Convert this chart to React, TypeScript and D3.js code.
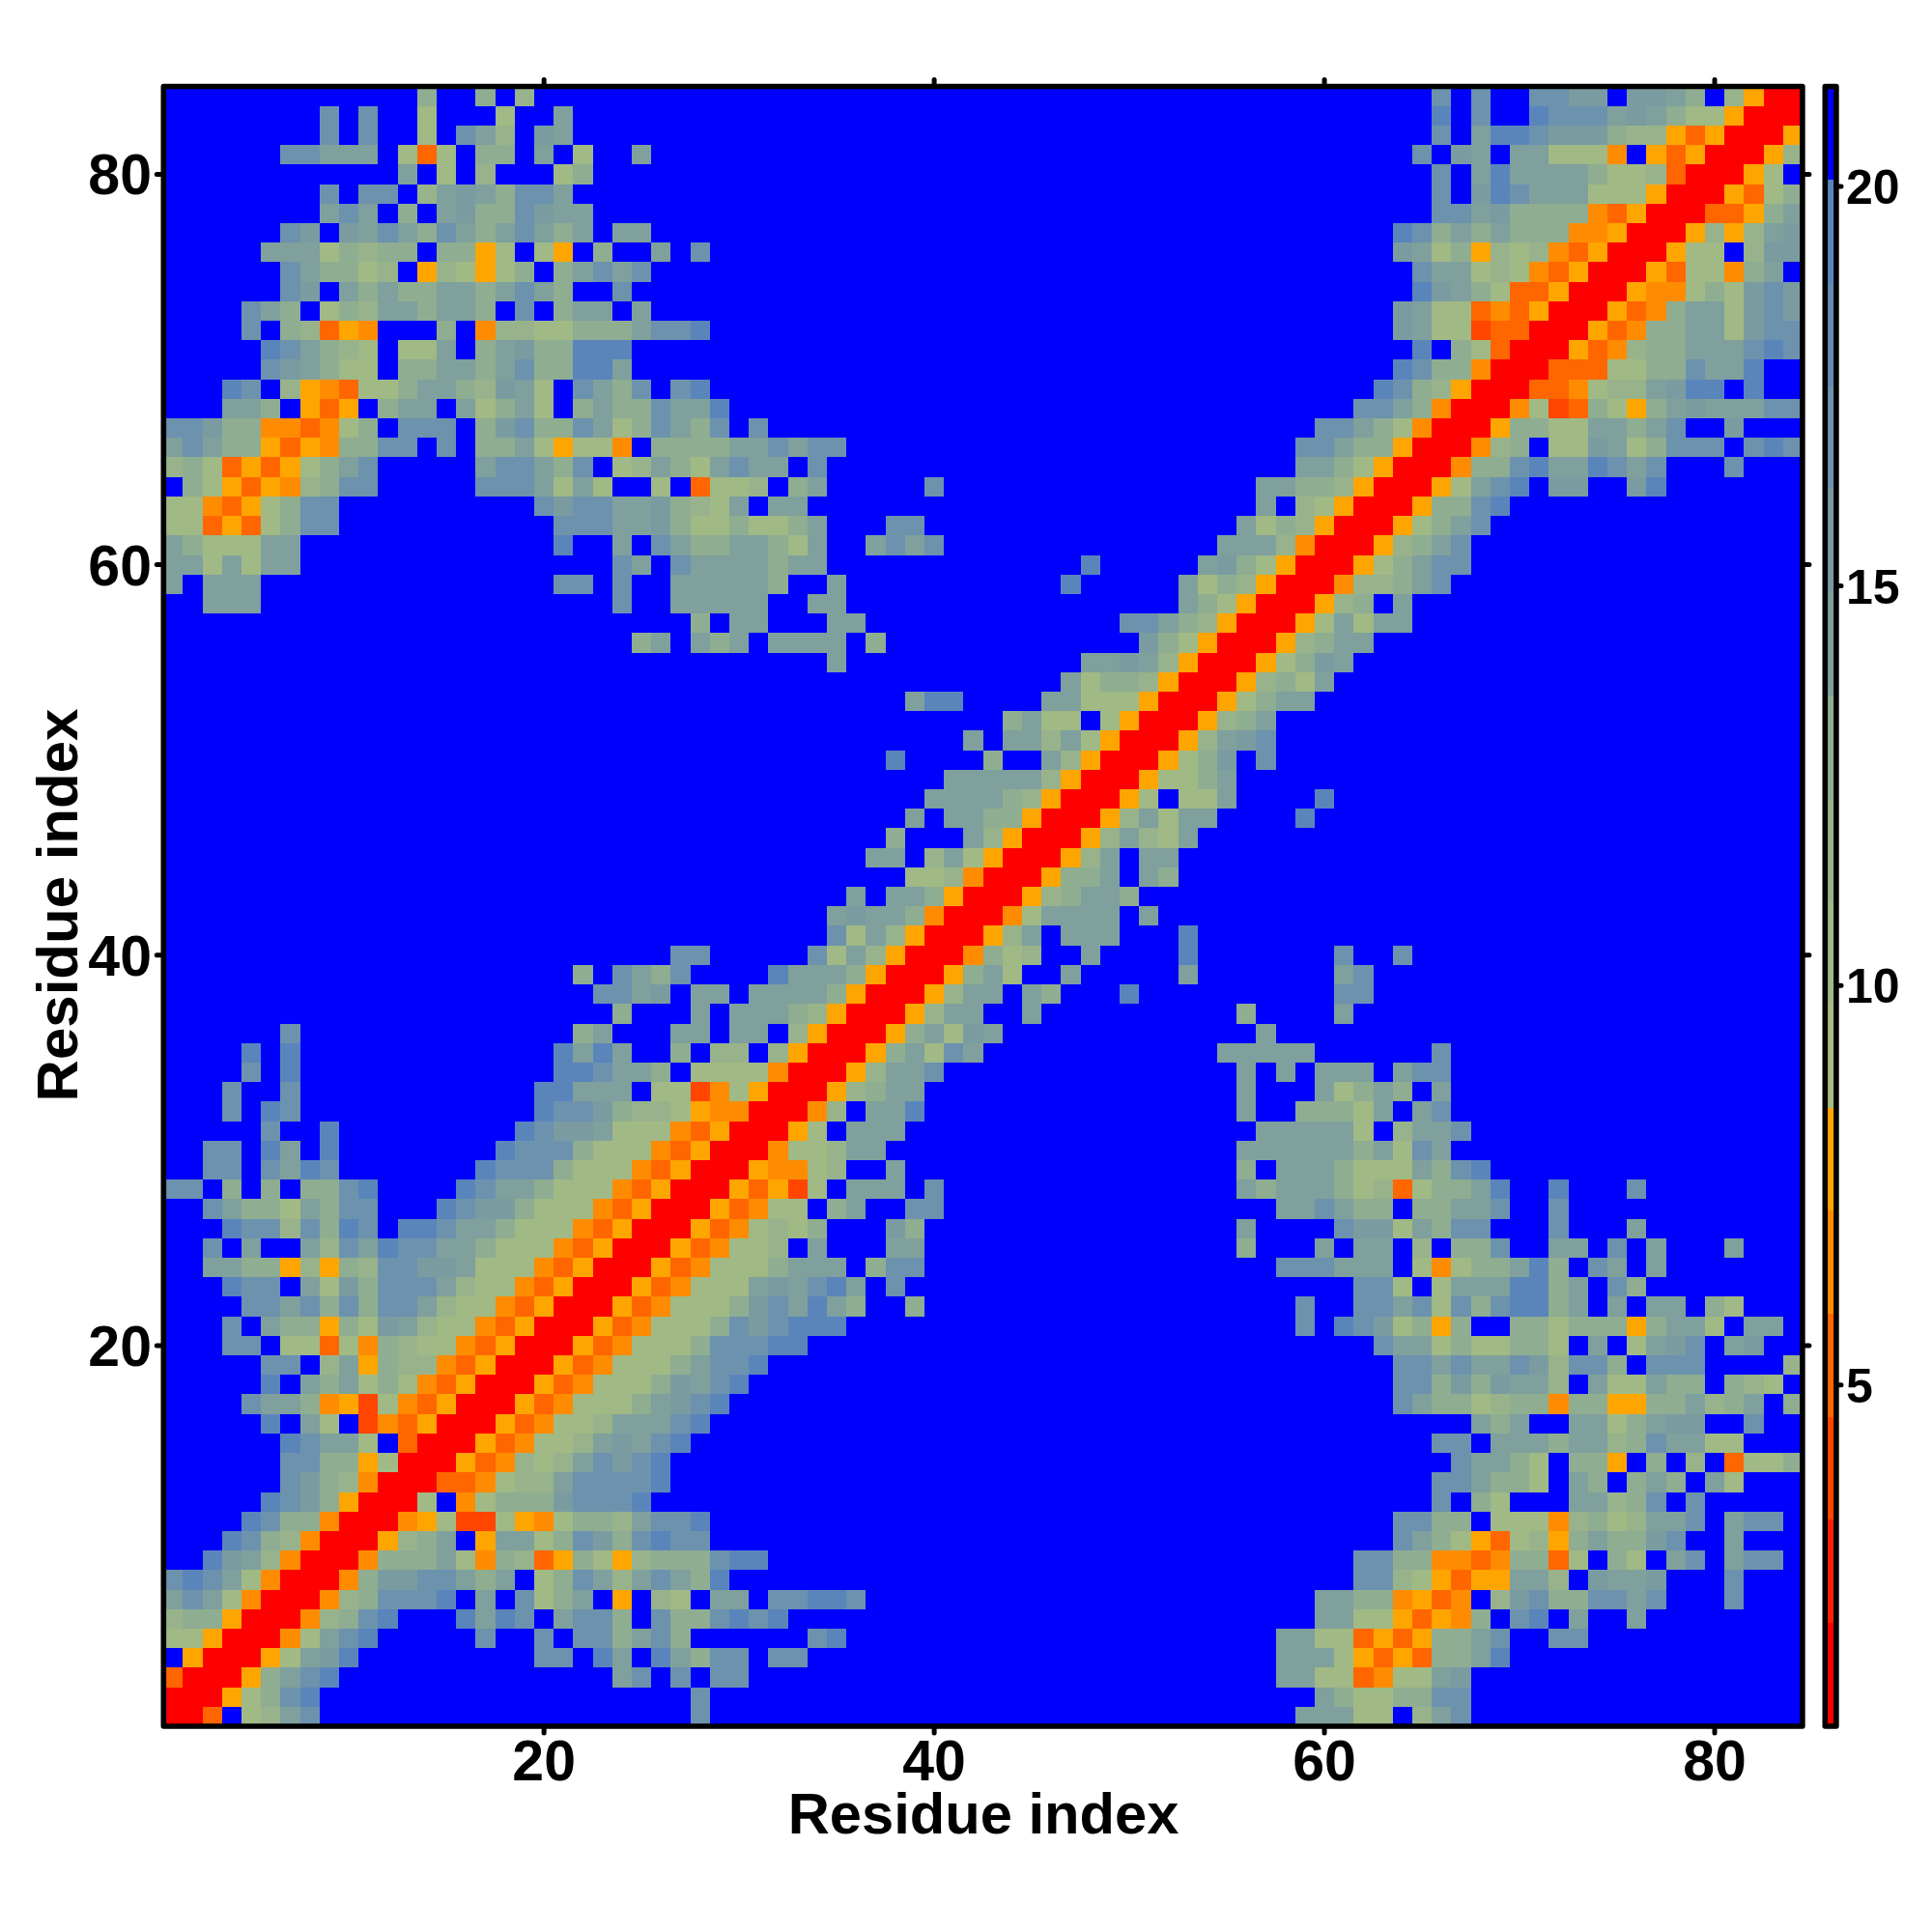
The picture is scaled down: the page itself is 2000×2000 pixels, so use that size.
import React from "react";
import * as d3 from "d3";

const N = 84;
const xTicks = [20, 40, 60, 80];
const yTicks = [20, 40, 60, 80];
const barTicks = [5, 10, 15, 20];
const axisTitle = "Residue index";

// Distance classes: each letter stands for a value.
const classValues: Record<string, number> = {
  R: 1.4, l: 4, m: 5.2, n: 6.5, o: 7.8,
  a: 10.4, f: 11.7, b: 13, c: 14.3, g: 15.6, d: 16.9, e: 19.4, ".": 21,
};

const barEdges = [0.73, 2.02, 3.31, 4.6, 5.89, 7.18, 8.47, 9.76, 11.05, 12.34, 13.63, 14.92, 16.21, 17.5, 18.79, 20.08, 21.26];
const barColors = [
  "#ff0000", "#ff2200", "#ff4500", "#ff6600", "#ff8c00", "#ffa500",
  "#a6bc83", "#a0b985", "#98b38b", "#8fad91", "#7fa09c", "#7a9ca1", "#6c92ae", "#6489b3", "#5a85bb", "#0000ff",
];

// Symmetric matrix: [row, [firstColumn, classes], ...] for columns up to the diagonal; anything omitted is ".".
const rows: [number, ...[number, string][]][] = [
  [84, [14, "b"], [17, "b"], [19, "f"], [66, "d.d..ddgg.ggcb.foRR"]],
  [83, [9, "d"], [11, "d"], [14, "a"], [18, "a"], [21, "c"], [66, "e.d..edddcgcbaaoRR"]],
  [82, [9, "d"], [11, "d"], [14, "a"], [16, "dcf"], [20, "gc"], [66, "d.ceedgggbffomoRR"]],
  [81, [7, "ddccc"], [13, "ama"], [17, "bb"], [20, "c"], [22, "a"], [25, "c"], [65, "d.gc.ccaaan.omoRR"]],
  [80, [13, "c"], [15, "a"], [17, "f"], [21, "ab"], [66, "d.ceccccbaafmRR"]],
  [79, [9, "d"], [11, "dd"], [14, "fcgcbddc"], [66, "d.gedcccaaaoRR"]],
  [78, [9, "cdc"], [13, "b"], [15, "cgbbdgcc"], [66, "ddcgbbbbnmoRR"]],
  [77, [7, "dg"], [10, "gcdcbdcbcdcbc"], [24, "cc"], [64, "edbcbcbbbnnoRR"]],
  [76, [6, "cccabfbb"], [15, "bboa"], [20, "ao"], [23, "b"], [26, "c"], [28, "d"], [64, "gcabofafnmoRR"]],
  [75, [7, "dcbbaf"], [14, "ofaoab"], [21, "bcdcd"], [65, "dccafanmoRR"]],
  [74, [7, "dg"], [10, "cbcbbccbcdcb"], [24, "d"], [65, "egcbammoRR"]],
  [73, [5, "dcb"], [9, "abfccbccb"], [19, "d"], [21, "bcc"], [25, "c"], [64, "gcaamnmoRR"]],
  [72, [5, "d"], [7, "bfmon"], [15, "b"], [17, "nffaabbbcdde"], [64, "gcaalmmRR"]],
  [71, [6, "edcbfa"], [13, "aac"], [17, "bcgbbeee"], [65, "e.bamRR"]],
  [70, [6, "dgcbaa"], [13, "bbccbcdbbeec"], [64, "edbbnRR"]],
  [69, [4, "ed"], [7, "fonmaabccbfgca"], [22, "dcbd"], [27, "de"], [63, "edbfoRR"]],
  [68, [4, "ccb"], [8, "omo"], [12, "bcc"], [16, "cabca"], [22, "bcbbdcce"], [62, "ddcbnRR"]],
  [67, [1, "ddgbbnnmnab"], [13, "ddd"], [17, "bgdbbdcabdcbd"], [31, "d"], [60, "ddcbanRR"]],
  [66, [1, "cdcbbomonbbdd"], [15, "d"], [17, "bbcaoaan"], [26, "bbbbccdcdd"], [59, "ddcbboRR"]],
  [65, [1, "fbamomoabcd"], [17, "cddcbd"], [24, "afcbacdcc"], [34, "d"], [59, "ccbaoRR"]],
  [64, [2, "baomonfbdd"], [17, "dddcaca"], [26, "a"], [28, "maaf"], [33, "bc"], [40, "d"], [57, "ccbbfoRR"]],
  [63, [1, "aanmoabdd"], [20, "dgddccgbfac"], [32, "cc"], [57, "c.faoRR"]],
  [62, [1, "aamomabdd"], [21, "dddccgbaabaabc"], [38, "dd"], [56, "cabfoRR"]],
  [61, [1, "cbaaacc"], [21, "e"], [24, "c"], [26, "dcbbccbac"], [37, "cdcd"], [55, "cccfnRR"]],
  [60, [1, "ccacacc"], [24, "dc"], [27, "dccccbcc"], [48, "e"], [54, "cgbaoRR"]],
  [59, [1, "c"], [3, "ccc"], [21, "dd"], [24, "d"], [27, "cccccb"], [35, "c"], [47, "e"], [53, "cabfoRR"]],
  [58, [3, "ccc"], [24, "d"], [27, "ccccc"], [34, "cc"], [53, "cbaoRR"]],
  [57, [28, "b"], [30, "cc"], [35, "cc"], [50, "ddcbfoRR"]],
  [56, [25, "bc"], [28, "cbc"], [32, "cccc"], [37, "b"], [51, "gbaoRR"]],
  [55, [35, "c"], [48, "ccgcfoRR"]],
  [54, [47, "cabbfoRR"]],
  [53, [39, "cee"], [46, "ccaaaoRR"]],
  [52, [44, "bcaa.aoRR"]],
  [51, [42, "c.ccfcaoRR"]],
  [50, [38, "e"], [43, "b"], [46, "cfoRR"]],
  [49, [41, "cccccfoRR"]],
  [48, [40, "ccccbfoRR"]],
  [47, [39, "c"], [41, "ccbboRR"]],
  [46, [38, "b"], [42, "cfoRR"]],
  [45, [37, "cc"], [40, "fcaoRR"]],
  [44, [39, "aafnRR"]],
  [43, [36, "c"], [38, "ccboRR"]],
  [42, [35, "cgccbnRR"]],
  [41, [35, "dacfoRR"]],
  [40, [27, "dd"], [34, "dacfoRR"]],
  [39, [22, "b"], [24, "dcbd"], [32, "ecccboRR"]],
  [38, [23, "ddcg"], [28, "cc"], [31, "ccccboRR"]],
  [37, [24, "b"], [28, "c"], [30, "cccbfoRR"]],
  [36, [7, "d"], [22, "bc"], [27, "cc"], [30, "cc"], [33, "foRR"]],
  [35, [5, "e"], [7, "e"], [21, "ecec"], [27, "b"], [29, "ff"], [32, "foRR"]],
  [34, [5, "d"], [7, "e"], [21, "eedccb"], [28, "aaaanRR"]],
  [33, [4, "d"], [7, "d"], [20, "eeccc"], [26, "aalnaoRR"]],
  [32, [4, "d"], [6, "ed"], [20, "eddgbffaonnRR"]],
  [31, [6, "d"], [9, "e"], [19, "edggcaaanmoRR"]],
  [30, [3, "dd"], [6, "ec"], [9, "e"], [18, "edddbaaanmoRR"]],
  [29, [3, "dd"], [6, "dced"], [17, "edddbaaanmoRR"]],
  [28, [1, "dd"], [4, "b"], [6, "b"], [8, "bbde"], [16, "edccbaaanmoRR"]],
  [27, [3, "dcbbacbdd"], [15, "edggbaaanmoRR"]],
  [26, [4, "eddfdbed"], [13, "eedccbaaanmoRR"]],
  [25, [3, "d"], [5, "c"], [8, "cfdceddccbaaanmoRR"]],
  [24, [3, "ccbbofobfddggcaaanmoRR"]],
  [23, [4, "edd"], [8, "cagbdddcfaanmoRR"]],
  [22, [5, "ddcdbdbddcfaanmoRR"]],
  [21, [4, "d"], [6, "cbbobagcfaanmoRR"]],
  [20, [4, "dd"], [7, "aamanbfaanmoRR"]],
  [19, [6, "dd"], [9, "fcobffnmoRR"]],
  [18, [6, "e"], [8, "cbcabanmoRR"]],
  [17, [5, "dccbnolanmoRR"]],
  [16, [6, "e"], [8, "ca.lnmoRR"]],
  [15, [7, "edcca.mRR"]],
  [14, [7, "ddbboaRR"]],
  [13, [7, "dgbfnRR"]],
  [12, [6, "edgboRR"]],
  [11, [5, "edbbnRR"]],
  [10, [4, "edbfnRR"]],
  [9, [3, "egcfnRR"]],
  [8, [1, "dedcanRR"]],
  [7, [1, "cdcanRR"]],
  [6, [1, "fbboRR"]],
  [5, [1, "aaoRR"]],
  [4, [1, ".oRR"]],
  [3, [1, "mRR"]],
  [2, [1, "RR"]],
  [1, [1, "R"]],
];

const FONT = "'Liberation Sans', Arial, sans-serif";
const INK = "#000";

function buildMatrix(): number[][] {
  const m = d3.range(N).map(() => d3.range(N).map(() => classValues["."]));
  rows.forEach(([row, ...segs]) => {
    segs.forEach(([start, s]) => {
      s.split("").forEach((ch, i) => {
        const col = start + i;
        const v = classValues[ch];
        m[row - 1][col - 1] = v;
        m[col - 1][row - 1] = v;
      });
    });
  });
  return m;
}

export default function App() {
  const matrix = buildMatrix();
  const x = d3.scaleLinear().domain([0.5, N + 0.5]).range([169.3, 1865.9]);
  const y = d3.scaleLinear().domain([0.5, N + 0.5]).range([1787, 89.5]);
  const color = d3.scaleThreshold<number, string>().domain(barEdges.slice(1, -1)).range(barColors);
  const barY = d3.scaleLinear().domain([5, 20]).range([1433.7, 193]);
  const cells: React.ReactNode[] = [];
  matrix.forEach((r, j) =>
    r.forEach((v, i) => {
      const x0 = x(i + 0.5), x1 = x(i + 1.5), y0 = y(j + 1.5), y1 = y(j + 0.5);
      cells.push(<rect key={`${i}-${j}`} x={x0} y={y0} width={x1 - x0} height={y1 - y0} fill={color(v)} />);
    })
  );
  const fL = x.range()[0], fR = x.range()[1], fT = y.range()[1], fB = y.range()[0];
  return (
    <svg width={2000} height={2000} style={{ position: "absolute", left: 0, top: 0, background: "#fff" }} fontFamily={FONT} fontWeight="bold" fill={INK}>
      <g shapeRendering="crispEdges">{cells}</g>
      <rect x={fL} y={fT} width={fR - fL} height={fB - fT} fill="none" stroke={INK} strokeWidth={5.6} strokeLinejoin="round" />
      <g stroke={INK} strokeWidth={5} strokeLinecap="round">
        {xTicks.map((t) => (
          <g key={t}>
            <line x1={x(t)} x2={x(t)} y1={fB + 2} y2={fB + 7} />
            <line x1={x(t)} x2={x(t)} y1={fT - 2} y2={fT - 7} />
          </g>
        ))}
        {yTicks.map((t) => (
          <g key={t}>
            <line y1={y(t)} y2={y(t)} x1={fL - 2} x2={fL - 7} />
            <line y1={y(t)} y2={y(t)} x1={fR + 2} x2={fR + 7} />
          </g>
        ))}
      </g>
      {xTicks.map((t) => (
        <text key={t} x={x(t)} y={1843} fontSize={59} textAnchor="middle">{t}</text>
      ))}
      {yTicks.map((t) => (
        <text key={t} x={157} y={y(t) + 21} fontSize={59} textAnchor="end">{t}</text>
      ))}
      <text x={1018} y={1898} fontSize={59.7} textAnchor="middle">{axisTitle}</text>
      <text transform="translate(80,937) rotate(-90)" fontSize={60} textAnchor="middle">{axisTitle}</text>

      <g shapeRendering="crispEdges">
        {barColors.map((c, i) => (
          <rect key={c} x={1891} width={8} y={barY(barEdges[i + 1])} height={barY(barEdges[i]) - barY(barEdges[i + 1])} fill={c} />
        ))}
      </g>
      <rect x={1889.3} y={fT} width={11.6} height={fB - fT} fill="none" stroke={INK} strokeWidth={5.6} strokeLinejoin="round" />
      <g stroke={INK} strokeWidth={5} strokeLinecap="round">
        {barTicks.map((t) => (
          <line key={t} x1={1904} x2={1906} y1={barY(t)} y2={barY(t)} />
        ))}
      </g>
      {barTicks.map((t) => (
        <text key={t} x={1911} y={barY(t) + 18} fontSize={50}>{t}</text>
      ))}
    </svg>
  );
}
